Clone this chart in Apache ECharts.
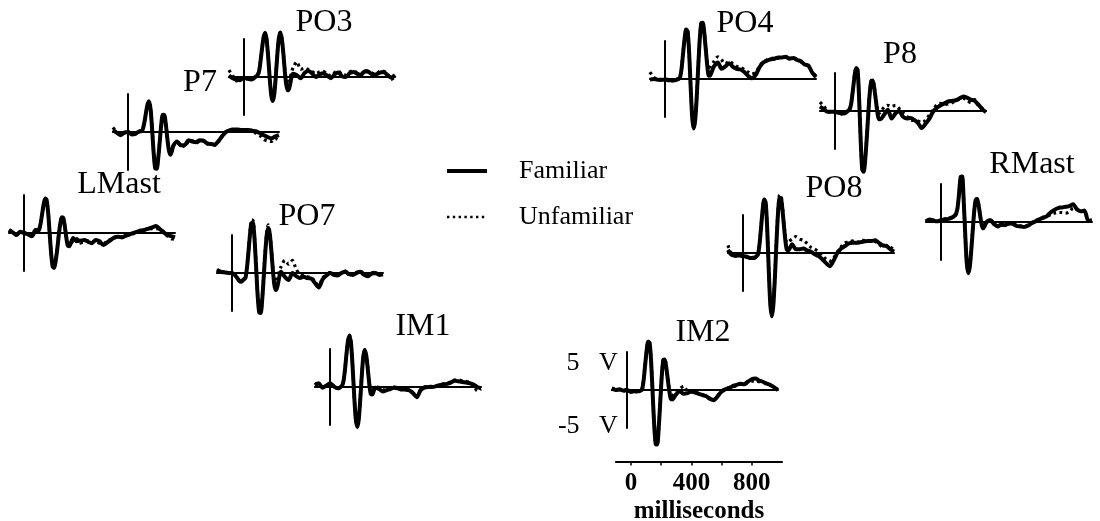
<!DOCTYPE html>
<html><head><meta charset="utf-8">
<script src="https://cdn.jsdelivr.net/npm/echarts@6/dist/echarts.min.js"></script>
<style>html,body{margin:0;padding:0;background:#fff}#c{width:1100px;height:521px}</style>
</head><body><div id="c"></div>
<script>
// ---- time base (ms) ----
const times = [-100,-75,-50,-25,0,25,50,60,70,80,90,100,110,120,130,140,150,160,170,180,190,200,210,220,230,240,250,260,270,280,290,300,325,350,375,400,425,450,475,500,525,550,575,600,625,650,675,700,725,750,775,800,825,850,875,900,925,950,975,1000];

// ---- voltage values (µV) per electrode ----
const LMAST_FAM = [0.5,0.1,-0.3,0.2,0.0,-0.2,-0.5, -0.3,0.3,0.5,0.4,0.5,1.5,3.0,4.5,5.4,5.2,3.2,-0.1,-3.3,-5.3,-5.5,-4.4,-2.6,-0.4,1.4,2.5,2.4,1.1,-0.7,-2.0,-2.1, -0.8,-1.3,-1.2,-1.1,-1.4,-1.6,-1.1,-1.3,-1.9,-1.5,-1.1,-0.7,-0.6,-0.7,-0.4,-0.2,0.0,0.2,0.4,0.5,0.7,0.9,1.1,0.6,0.1,-0.3,-0.5,-0.7];
const LMAST_UNF = [0.3,0.2,-0.4,0.1,0.1,-0.3,-0.4, -0.2,0.2,0.4,0.4,0.6,1.6,3.1,4.6,5.5,5.3,3.3,0.0,-3.2,-5.2,-5.4,-4.3,-2.5,-0.3,1.5,2.6,2.5,1.2,-0.5,-1.7,-1.8, -1.3,-0.9,-1.6,-1.3,-1.2,-1.4,-1.3,-1.6,-1.7,-1.3,-1.0,-0.8,-0.5,-0.6,-0.5,-0.3,-0.1,0.1,0.3,0.5,0.6,0.7,0.7,0.6,0.2,-0.5,-0.9,-1.0];

const P7_FAM = [0.3,-0.1,-0.5,-0.1,0.0,-0.4,-0.3, -0.1,0.0,0.1,0.1,0.6,1.7,3.2,4.4,4.8,3.5,0.3,-3.3,-5.7,-5.8,-4.2,-1.6,1.1,2.7,2.7,1.3,-0.9,-2.8,-3.6,-3.1,-2.2, -1.5,-2.1,-2.1,-1.3,-1.5,-1.6,-1.3,-1.4,-1.8,-1.9,-2.0,-1.4,-0.6,0.0,0.3,0.4,0.4,0.3,0.3,0.3,0.2,0.1,-0.2,-0.5,-0.8,-1.0,-0.7,-0.5];
const P7_UNF = [0.7,0.0,-0.4,-0.2,0.1,-0.3,-0.2, -0.1,0.1,0.2,0.2,0.7,1.8,3.3,4.5,4.9,3.6,0.4,-3.2,-5.6,-5.7,-4.1,-1.5,1.2,2.8,2.8,1.4,-0.7,-2.6,-3.4,-3.0,-2.1, -1.7,-1.9,-2.3,-1.5,-1.4,-1.8,-1.4,-1.3,-1.9,-1.8,-2.1,-1.5,-0.7,0.1,0.2,0.5,0.3,0.4,0.2,0.2,0.0,-0.2,-0.6,-1.2,-1.4,-1.5,-1.0,-1.3];

const PO3_FAM = [0.2,-0.2,-0.4,-0.5,-0.1,-0.3,-0.4, -0.3,-0.1,0.1,0.3,0.9,2.6,4.6,6.3,6.9,5.9,3.2,-0.1,-2.8,-3.8,-2.8,-0.1,3.3,6.0,7.0,6.1,3.9,1.0,-1.2,-2.1,-1.7, 0.5,0.3,-0.2,0.6,1.0,0.6,0.0,0.4,0.6,0.2,-0.2,0.4,0.7,0.1,0.0,0.6,0.8,0.5,0.3,0.9,0.8,0.4,0.4,0.7,0.8,0.3,-0.1,0.3];
const PO3_UNF = [1.1,0.2,-0.6,-0.4,0.0,-0.2,-0.5, -0.2,0.0,0.2,0.4,1.0,2.7,4.7,6.4,7.0,6.0,3.3,0.0,-2.7,-3.7,-2.7,0.0,3.4,6.1,7.1,6.2,4.0,1.2,-0.9,-1.6,-0.6, 1.5,2.4,1.2,1.4,1.2,0.9,0.5,0.8,0.9,0.5,0.2,0.7,0.9,0.4,0.3,0.8,1.0,0.6,0.5,1.0,0.9,0.6,0.5,0.9,0.9,0.5,-0.4,0.0];

const PO7_FAM = [0.5,0.2,0.1,0.0,0.0,-0.5,-1.3, -1.4,-1.2,-1.0,-0.7,1.0,3.6,6.3,7.9,7.8,5.1,0.8,-3.6,-6.2,-6.3,-4.2,-0.7,3.1,6.0,7.1,6.2,3.7,0.7,-1.8,-2.7,-2.2, 0.2,-0.6,-1.1,0.0,-0.5,-0.8,-0.6,-0.8,-0.9,-1.6,-2.3,-1.0,-0.4,0.0,-0.3,-0.4,0.0,0.2,-0.2,-0.3,0.0,0.2,-0.3,-0.5,-0.1,0.0,-0.3,-0.2];
const PO7_UNF = [0.3,0.4,0.1,-0.1,0.1,-0.4,-1.2, -1.3,-1.1,-0.9,-0.6,1.1,3.8,6.6,8.4,8.3,5.4,0.9,-3.5,-6.1,-6.2,-4.1,-0.5,3.4,6.4,7.6,6.6,4.0,1.0,-1.3,-1.9,-0.8, 1.0,2.0,1.4,2.0,0.6,-0.2,-0.4,-0.6,-0.7,-1.4,-2.0,-0.8,-0.3,0.1,-0.2,-0.3,0.1,0.3,-0.1,-0.2,0.1,0.3,-0.2,-0.4,0.0,0.1,-0.2,-0.1];

const IM1_FAM = [0.3,0.6,-0.1,0.2,0.6,0.1,-0.2, -0.2,0.0,0.2,1.0,2.9,5.4,7.4,8.1,6.7,3.1,-1.3,-4.9,-6.3,-5.2,-2.1,1.6,4.7,5.8,5.0,2.9,0.5,-1.1,-1.2,-0.6,-0.1, -0.3,-0.7,-0.5,-0.3,-0.1,-0.2,-0.4,-0.4,-0.5,-1.0,-1.6,-0.5,-0.1,0.0,0.0,0.1,0.3,0.4,0.5,0.7,1.0,0.9,0.8,0.7,0.6,0.4,0.0,-0.2];
const IM1_UNF = [0.5,0.4,0.0,0.1,0.5,0.2,-0.1, -0.1,0.1,0.3,1.1,3.0,5.5,7.5,8.2,6.8,3.2,-1.2,-4.8,-6.2,-5.1,-2.0,1.7,4.8,5.9,5.1,3.0,0.7,-0.8,-0.9,-0.3,0.1, -0.1,-0.5,-0.3,-0.4,0.0,-0.1,-0.3,-0.5,-0.4,-0.9,-1.4,-0.4,0.0,0.1,0.1,0.2,0.3,0.5,0.6,0.8,1.1,1.1,1.0,0.9,0.7,0.3,-0.6,-0.3];

const IM2_FAM = [0.2,0.0,0.1,-0.1,0.0,-0.3,-0.2, -0.2,-0.2,-0.2,-0.1,0.1,1.5,3.9,6.2,7.6,7.4,4.4,-0.6,-5.5,-8.5,-8.6,-6.0,-2.0,2.1,4.7,4.8,3.6,1.7,-0.2,-1.4,-1.5, -0.7,-0.2,-0.6,-0.5,-0.2,-0.4,-0.6,-0.8,-1.0,-1.4,-1.6,-1.0,-0.3,0.1,0.3,0.6,0.8,1.0,0.9,1.3,1.7,1.8,1.5,1.3,1.0,0.8,0.4,0.0];
const IM2_UNF = [0.3,0.1,0.0,-0.2,0.1,-0.2,-0.3, -0.3,-0.1,-0.1,0.0,0.2,1.6,4.0,6.3,7.7,7.5,4.5,-0.5,-5.4,-8.4,-8.5,-5.9,-1.9,2.2,4.8,4.9,3.7,1.9,0.1,-1.0,-0.9, -0.3,0.2,0.6,-0.2,-0.3,-0.5,-0.5,-0.7,-1.1,-1.3,-1.5,-0.9,-0.2,0.2,0.4,0.5,0.7,0.9,1.0,1.2,1.4,1.4,1.3,1.2,1.1,0.7,0.3,0.1];

const PO4_FAM = [-0.1,0.0,-0.1,-0.1,-0.1,-0.2,-0.2, -0.2,-0.2,-0.1,0.0,0.3,1.7,4.1,6.4,7.8,7.5,4.1,-1.3,-6.0,-7.8,-6.5,-2.9,1.9,6.2,8.8,8.9,7.3,4.7,2.1,0.5,0.6, 2.0,2.6,1.6,2.0,2.5,1.9,1.6,1.5,1.1,0.5,0.1,0.6,1.8,2.6,2.9,3.1,3.2,3.4,3.4,3.5,3.2,3.3,3.0,2.8,2.3,2.1,1.0,0.3];
const PO4_UNF = [1.1,0.3,-0.1,-0.2,0.0,-0.1,-0.3, -0.3,-0.2,0.0,0.1,0.4,1.8,4.2,6.5,7.9,7.6,4.2,-1.2,-5.9,-7.7,-6.4,-2.8,2.0,6.3,8.9,9.0,7.4,4.9,2.5,1.4,1.9, 2.8,3.5,3.0,2.4,2.8,2.4,2.0,1.8,1.5,1.1,0.8,1.0,2.0,2.7,3.0,3.2,3.3,3.3,3.5,3.4,3.3,3.2,3.1,2.7,2.4,2.0,1.1,0.4];

const P8_FAM = [0.7,0.3,-0.1,-0.1,-0.1,-0.3,-0.4, -0.4,-0.3,-0.1,0.1,0.4,1.6,3.6,5.6,6.8,6.4,1.8,-4.6,-9.2,-9.6,-7.7,-4.4,-0.6,2.8,4.7,4.8,3.6,1.8,-0.1,-1.3,-1.3, -0.6,0.2,-1.2,-0.4,0.0,-0.9,-1.2,-1.1,-1.4,-1.9,-2.7,-2.0,-1.2,-0.1,0.5,0.9,1.2,1.5,1.6,1.7,2.0,2.3,2.1,1.8,1.6,1.0,0.3,-0.2];
const P8_UNF = [1.4,0.8,0.0,-0.2,0.0,-0.2,-0.5, -0.5,-0.3,0.0,0.2,0.5,1.7,3.7,5.7,6.9,6.5,1.9,-4.5,-9.1,-9.5,-7.6,-4.3,-0.5,2.9,4.8,4.9,3.8,2.1,0.5,-0.4,-0.2, 0.6,0.9,0.7,0.9,0.4,-0.3,-0.8,-1.4,-1.5,-1.6,-1.8,-1.5,-0.6,0.2,1.0,1.2,1.0,1.1,1.3,1.6,1.9,2.0,1.7,1.3,1.8,0.8,0.4,-0.1];

const PO8_FAM = [0.5,-0.3,-0.4,-0.4,-0.5,-0.6,-0.8, -0.8,-0.8,-0.7,-0.5,-0.2,1.5,4.1,6.8,8.4,8.0,4.0,-2.3,-7.8,-10.0,-8.5,-4.5,0.8,5.6,8.5,8.7,7.1,4.6,2.1,0.5,0.4, 1.4,0.6,0.6,0.7,0.4,0.2,-0.2,-0.5,-1.0,-1.6,-2.1,-1.2,0.0,0.7,1.1,1.5,1.6,1.6,1.7,1.8,1.9,1.9,2.0,1.6,1.2,1.1,0.6,0.2];
const PO8_UNF = [1.2,-0.1,-0.5,-0.3,-0.4,-0.7,-0.7, -0.7,-0.7,-0.6,-0.4,-0.1,1.6,4.2,6.9,8.5,8.1,4.1,-2.2,-7.7,-9.9,-8.4,-4.3,1.1,6.0,9.0,9.2,7.6,5.0,2.7,1.6,1.8, 2.2,2.6,2.2,2.0,1.5,0.9,0.6,0.2,-0.4,-1.0,-1.3,-0.8,0.2,1.0,1.6,1.7,1.9,1.6,1.9,2.0,1.8,2.0,1.8,1.4,1.0,1.2,0.9,0.6];

const RMAST_FAM = [0.1,0.4,0.2,0.1,0.3,0.4,0.5, 0.6,0.7,0.8,1.0,1.3,2.3,4.6,7.1,7.2,3.5,-1.7,-6.3,-8.1,-7.2,-4.6,-1.4,1.7,3.5,3.6,2.5,0.9,-0.5,-1.0,-0.6,-0.1, 0.3,-0.3,-0.7,-0.4,-0.5,-0.2,-0.3,-0.6,-0.7,-0.8,-0.6,-0.2,0.1,0.4,0.7,0.9,1.5,1.9,2.2,2.3,2.4,2.5,2.8,2.0,1.7,1.8,0.2,0.3];
const RMAST_UNF = [0.0,0.3,0.3,0.2,0.2,0.5,0.4, 0.5,0.6,0.7,0.9,1.2,2.2,4.5,7.0,7.1,3.6,-1.6,-6.2,-8.0,-7.1,-4.5,-1.3,1.8,3.6,3.7,2.6,1.0,-0.4,-0.9,-0.5,0.0, 0.4,-0.2,-0.6,-0.5,-0.4,-0.3,-0.4,-0.5,-0.6,-0.7,-0.5,-0.1,0.2,0.5,0.6,0.8,1.2,1.4,1.5,1.5,1.4,1.6,2.2,2.0,1.6,1.7,0.3,0.2];

const panelNames = ['LMast','P7','PO3','PO7','IM1','IM2','PO4','P8','PO8','RMast'];
const familiarData = {LMast:LMAST_FAM,P7:P7_FAM,PO3:PO3_FAM,PO7:PO7_FAM,IM1:IM1_FAM,IM2:IM2_FAM,PO4:PO4_FAM,P8:P8_FAM,PO8:PO8_FAM,RMast:RMAST_FAM};
const unfamiliarData = {LMast:LMAST_UNF,P7:P7_UNF,PO3:PO3_UNF,PO7:PO7_UNF,IM1:IM1_UNF,IM2:IM2_UNF,PO4:PO4_UNF,P8:P8_UNF,PO8:PO8_UNF,RMast:RMAST_UNF};
const legendNames = ['Familiar','Unfamiliar'];
const scaleTicks = [0,200,400,600,800];
const scaleLabels = [0,400,800];
const voltLabels = [5,-5];
const scaleName = 'milliseconds';

// ---- layout (pixel positions: origin of each panel, label centre) ----
const layout = {
  LMast:{bx:24, zy:233, lx:119, ly:185},
  P7:   {bx:128,zy:132, lx:200, ly:83},
  PO3:  {bx:244,zy:77,  lx:324, ly:23},
  PO7:  {bx:232,zy:273, lx:307, ly:217},
  IM1:  {bx:330,zy:387, lx:423, ly:327},
  IM2:  {bx:627,zy:390, lx:703, ly:333},
  PO4:  {bx:665,zy:79,  lx:745, ly:24},
  P8:   {bx:835,zy:111, lx:900, ly:55},
  PO8:  {bx:743,zy:253, lx:834, ly:189},
  RMast:{bx:941,zy:222, lx:1032,ly:165}
};
const PX_PER_MS = 0.151, T0 = -100, T1 = 1000, HALF_H = 38, VMAX = 6;
const FONT = '"Liberation Serif", "Times New Roman", serif';

const grids = [], xAxes = [], yAxes = [], series = [], graphics = [];
panelNames.forEach((name, i) => {
  const L = layout[name];
  grids.push({left: L.bx + T0*PX_PER_MS, top: L.zy - HALF_H, width: (T1-T0)*PX_PER_MS, height: 2*HALF_H});
  xAxes.push({type:'value', gridIndex:i, min:T0, max:T1,
    axisLine:{show:true, onZero:true, lineStyle:{color:'#000', width:2}},
    axisTick:{show:false}, axisLabel:{show:false}, splitLine:{show:false}});
  const isScale = name === 'IM2';
  yAxes.push({type:'value', gridIndex:i, min:-VMAX, max:VMAX,
    axisLine:{show:true, onZero:true, lineStyle:{color:'#000', width:2}},
    axisTick:{show:false}, splitLine:{show:false},
    axisLabel: isScale ? {show:true, customValues: voltLabels, formatter: v => v + '   V', fontFamily: FONT, fontSize: 26, color:'#000', margin: -6, verticalAlign:'top', lineHeight:10} : {show:false}});
  series.push({type:'line', name:'Unfamiliar', xAxisIndex:i, yAxisIndex:i, symbol:'none', clip:false, smooth:0.25, silent:true, z:2,
    data: times.map((t,k)=>[t, unfamiliarData[name][k]]),
    lineStyle:{color:'#000', width:3.2, type:[2.8,3.4]}, itemStyle:{color:'#000'}});
  series.push({type:'line', name:'Familiar', xAxisIndex:i, yAxisIndex:i, symbol:'none', clip:false, smooth:0.25, silent:true, z:3,
    data: times.map((t,k)=>[t, familiarData[name][k]]),
    lineStyle:{color:'#000', width:4, type:'solid'}, itemStyle:{color:'#000'}});
  graphics.push({type:'text', x:L.lx, y:L.ly, silent:true,
    style:{text:name, font:'32px ' + FONT, fill:'#000', align:'center', verticalAlign:'middle', textAlign:'center', textVerticalAlign:'middle'}});
});

// millisecond scale bar
const si = panelNames.length;
const zeroX = layout.IM2.bx + 4;
grids.push({left: zeroX + T0*PX_PER_MS, top: 459, width: (T1-T0)*PX_PER_MS, height: 10});
xAxes.push({type:'value', gridIndex:si, min:T0, max:T1, position:'bottom',
  axisLine:{show:true, onZero:false, lineStyle:{color:'#000', width:2}},
  axisTick:{show:true, customValues: scaleTicks, length:4, lineStyle:{color:'#000', width:1.5}},
  axisLabel:{show:true, customValues: scaleLabels, fontFamily:FONT, fontWeight:'bold', fontSize:25, color:'#000', margin:10},
  splitLine:{show:false},
  name: scaleName, nameLocation:'middle', nameGap:38,
  nameTextStyle:{fontFamily:FONT, fontWeight:'bold', fontSize:25, color:'#000'}});
yAxes.push({type:'value', gridIndex:si, min:0, max:1, show:false});

const chart = echarts.init(document.getElementById('c'), null, {renderer:'canvas'});
chart.setOption({
  backgroundColor:'#fff',
  animation:false,
  grid: grids, xAxis: xAxes, yAxis: yAxes, series: series,
  legend:{
    data: [{name: legendNames[0], lineStyle:{width:4}}, {name: legendNames[1], lineStyle:{width:2.6, type:[2.4,3.4]}}],
    orient:'vertical', left:445, top:157, padding:0, itemWidth:40, itemHeight:14, itemGap:18,
    selectedMode:false, itemStyle:{opacity:0},
    textStyle:{fontFamily:FONT, fontSize:26, color:'#000', lineHeight:28, padding:[0,0,0,27]}},
  graphic: graphics
});
</script></body></html>
